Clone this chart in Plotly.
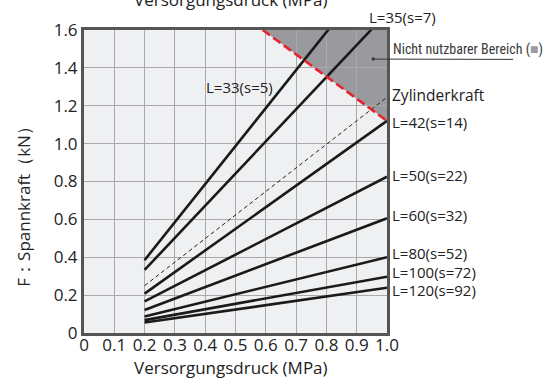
import plotly.graph_objects as go

# Supply pressure (MPa) at start and end of each characteristic
pressure = [0.2, 1.0]

# Clamping force (kN) at 0.2 MPa and 1.0 MPa for each arm length
curve_names = ["L=33(s=5)", "L=35(s=7)", "L=42(s=14)", "L=50(s=22)",
               "L=60(s=32)", "L=80(s=52)", "L=100(s=72)", "L=120(s=92)"]
force_l33 = [0.385, 1.99]
force_l35 = [0.333, 1.69]
force_l42 = [0.208, 1.12]
force_l50 = [0.167, 0.825]
force_l60 = [0.121, 0.606]
force_l80 = [0.087, 0.400]
force_l100 = [0.068, 0.297]
force_l120 = [0.055, 0.239]
curve_forces = [force_l33, force_l35, force_l42, force_l50,
                force_l60, force_l80, force_l100, force_l120]

# Cylinder force (dashed reference)
force_cylinder = [0.250, 1.245]

# Limit of the usable range
limit_pressure = [0.59, 1.0]
limit_force = [1.6, 1.12]

x_ticks = [0, 0.1, 0.2, 0.3, 0.4, 0.5, 0.6, 0.7, 0.8, 0.9, 1.0]
x_tick_text = ["0", "0.1", "0.2", "0.3", "0.4", "0.5", "0.6", "0.7", "0.8", "0.9", "1.0"]
y_ticks = [0, 0.2, 0.4, 0.6, 0.8, 1.0, 1.2, 1.4, 1.6]
y_tick_text = ["0", "0.2", "0.4", "0.6", "0.8", "1.0", "1.2", "1.4", "1.6"]

FONT = "Open Sans, Noto Sans, sans-serif"
NARROW = "Liberation Sans Narrow, Roboto Condensed, Open Sans, sans-serif"
TXT = "#222222"

fig = go.Figure()

# Cylinder force, thin dashed
fig.add_trace(go.Scatter(x=pressure, y=force_cylinder, mode="lines",
                         line=dict(color="#222222", width=1, dash="4px,3px"),
                         hoverinfo="skip", showlegend=False))

# Clamping force characteristics
for name, f in zip(curve_names, curve_forces):
    fig.add_trace(go.Scatter(x=pressure, y=f, mode="lines", name=name,
                             line=dict(color="#1a1a1a", width=2.6),
                             showlegend=False))

# Red dashed limit line
fig.add_trace(go.Scatter(x=limit_pressure, y=limit_force, mode="lines",
                         line=dict(color="#e8222a", width=2.6, dash="9px,4px"),
                         hoverinfo="skip", showlegend=False))

# Unusable area above the limit line (under the gridlines)
ymax = y_ticks[-1]
area_path = "M {} {} L {} {} L {} {} Z".format(
    limit_pressure[0], limit_force[0], limit_pressure[1], ymax,
    limit_pressure[1], limit_force[1])
shapes = [dict(type="path", path=area_path, xref="x", yref="y",
               fillcolor="#9a9a9e", line=dict(width=0), layer="below")]

# Leader line with dot for the unusable-area note
shapes.append(dict(type="line", xref="paper", yref="paper",
                   x0=0.954, y0=0.904, x1=1.416, y1=0.903,
                   line=dict(color="#333333", width=1)))
shapes.append(dict(type="circle", xref="paper", yref="paper",
                   x0=0.949, y0=0.899, x1=0.960, y1=0.910,
                   fillcolor="#333333", line=dict(width=0)))

annotations = []

def label(text, x, y, xanchor="left", size=15, family=FONT, color=TXT):
    annotations.append(dict(text=text, x=x, y=y, xref="paper", yref="paper",
                            xanchor=xanchor, yanchor="middle", showarrow=False,
                            borderpad=0,
                            font=dict(family=family, size=size, color=color)))

# Curve labels (paper coordinates: plot area spans 0..1)
label("L=35(s=7)", 1.05, 1.043, xanchor="center")
label("L=33(s=5)", 0.513, 0.812, xanchor="center")
label("Zylinderkraft", 1.012, 0.785, size=15.5)
label("L=42(s=14)", 1.012, 0.696)
label("L=50(s=22)", 1.012, 0.523)
label("L=60(s=32)", 1.012, 0.389)
label("L=80(s=52)", 1.012, 0.264)
label("L=100(s=72)", 1.012, 0.201)
label("L=120(s=92)", 1.012, 0.141)

# Note for the unusable area
label("Nicht nutzbarer Bereich (<span style='color:#9a9a9e'>■</span>)",
      1.016, 0.937, size=14, family=NARROW, color="#3a3a3a")

# Axis titles
label("Versorgungsdruck (MPa)", 0.485, -0.115, xanchor="center", size=17)
label("Versorgungsdruck (MPa)", 0.485, 1.10, xanchor="center", size=17)
annotations.append(dict(text="F：Spannkraft（kN）", x=-0.198, y=0.43,
                        xref="paper", yref="paper", textangle=-90,
                        showarrow=False, xanchor="center", yanchor="middle",
                        font=dict(family=FONT, size=17, color=TXT)))

fig.update_layout(
    width=555, height=379,
    margin=dict(l=84, r=168, t=30, b=46),
    paper_bgcolor="white",
    plot_bgcolor="#eff0f2",
    shapes=shapes,
    annotations=annotations,
    xaxis=dict(range=[0, 1.0], tickvals=x_ticks, ticktext=x_tick_text,
               showgrid=True, gridcolor="#a9a9ab", gridwidth=1,
               zeroline=False, showline=True, linecolor="#555555",
               linewidth=3, mirror=True, ticks="", ticklabelstandoff=-5,
               tickfont=dict(family=FONT, size=17, color=TXT)),
    yaxis=dict(range=[0, 1.6], tickvals=y_ticks, ticktext=y_tick_text,
               showgrid=True, gridcolor="#a9a9ab", gridwidth=1,
               zeroline=False, showline=True, linecolor="#555555",
               linewidth=3, mirror=True, ticks="",
               tickfont=dict(family=FONT, size=17, color=TXT)),
)

fig.write_html("out.html")
